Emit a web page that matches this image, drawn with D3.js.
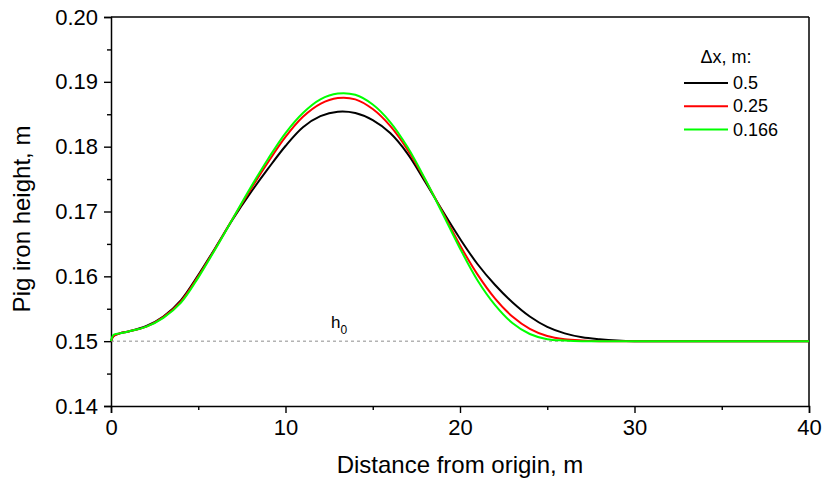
<!DOCTYPE html>
<html>
<head>
<meta charset="utf-8">
<script src="https://cdn.jsdelivr.net/npm/d3@7"></script>
<style>
  body { margin: 0; background: #fff; }
  svg text { font-family: "Liberation Sans", Arial, sans-serif; fill: #000; }
</style>
</head>
<body>
<div id="chart"></div>
<script>
// values (distance in m, height in m)
var distance = [0, 0.15, 0.5, 1, 2, 3, 4, 5, 6, 7, 8, 9, 10, 11, 12, 13, 14, 15, 16, 17, 18, 19, 20,
    21, 22, 23, 24, 25, 26, 27, 28, 29, 30, 32, 35, 40];

var h_05 = [0.1500, 0.1508, 0.1512, 0.1515, 0.1523, 0.1538, 0.1563, 0.1602, 0.1645, 0.1689, 0.1729,
    0.1766, 0.1801, 0.1830, 0.1847, 0.1854, 0.1852, 0.1841, 0.1821, 0.1789, 0.1746, 0.1701, 0.1658,
    0.1619, 0.1587, 0.1560, 0.1538, 0.1522, 0.1512, 0.1506, 0.1503, 0.1501, 0.1500, 0.1500, 0.1500, 0.1500];

var h_025 = [0.1500, 0.1508, 0.1512, 0.1515, 0.1522, 0.1537, 0.1561, 0.1600, 0.1644, 0.1690, 0.1734,
    0.1776, 0.1815, 0.1846, 0.1866, 0.1875, 0.1873, 0.1858, 0.1832, 0.1795, 0.1749, 0.1699, 0.1648,
    0.1603, 0.1566, 0.1538, 0.1519, 0.1508, 0.1503, 0.1501, 0.1500, 0.1500, 0.1500, 0.1500, 0.1500, 0.1500];

var h_0166 = [0.1500, 0.1510, 0.1512, 0.1515, 0.1522, 0.1536, 0.1559, 0.1598, 0.1643, 0.1690, 0.1737,
    0.1781, 0.1821, 0.1852, 0.1873, 0.1882, 0.1880, 0.1865, 0.1838, 0.1799, 0.1750, 0.1697, 0.1643,
    0.1594, 0.1556, 0.1528, 0.1511, 0.1503, 0.1501, 0.1500, 0.1500, 0.1500, 0.1500, 0.1500, 0.1500, 0.1500];

var seriesNames = ["0.5", "0.25", "0.166"];
var seriesColors = ["#000000", "#ff0000", "#00ff00"];
var seriesValues = [h_05, h_025, h_0166];

var h0 = 0.15;
var xTicks = [0, 10, 20, 30, 40];
var yTicks = [0.14, 0.15, 0.16, 0.17, 0.18, 0.19, 0.20];

var svgWidth = 829;
var svgHeight = 484;

var margin = { top: 17, right: 20, bottom: 78, left: 111 };
var width = svgWidth - margin.left - margin.right;
var height = svgHeight - margin.top - margin.bottom;

var svg = d3.select("#chart")
    .append("svg")
    .attr("width", svgWidth)
    .attr("height", svgHeight);

var chartGroup = svg.append("g")
    .attr("transform", `translate(${margin.left}, ${margin.top})`);

var xScale = d3.scaleLinear().domain([0, 40]).range([0, width]);
var yScale = d3.scaleLinear().domain([0.14, 0.20]).range([height, 0]);

// minor ticks first (shorter), then major with labels
chartGroup.append("g")
    .attr("transform", `translate(0, ${height})`)
    .call(d3.axisBottom(xScale).tickValues([5, 15, 25, 35]).tickSize(4).tickFormat(""))
    .call(g => g.select(".domain").remove());

chartGroup.append("g")
    .call(d3.axisLeft(yScale).tickValues([0.145, 0.155, 0.165, 0.175, 0.185, 0.195]).tickSize(4).tickFormat(""))
    .call(g => g.select(".domain").remove());

var xAxis = chartGroup.append("g")
    .attr("transform", `translate(0, ${height})`)
    .call(d3.axisBottom(xScale).tickValues(xTicks).tickSize(7).tickPadding(6).tickFormat(d3.format("d")));
xAxis.selectAll("text").attr("font-size", 22).attr("font-family", "Liberation Sans, Arial, sans-serif");

var yAxis = chartGroup.append("g")
    .call(d3.axisLeft(yScale).tickValues(yTicks).tickSize(7).tickPadding(6).tickFormat(d3.format(".2f")));
yAxis.selectAll("text").attr("font-size", 22).attr("font-family", "Liberation Sans, Arial, sans-serif");

chartGroup.selectAll(".tick line").attr("stroke-width", 1.4);
chartGroup.selectAll(".domain").attr("stroke-width", 1.5);

// top and right frame lines
chartGroup.append("line")
    .attr("x1", 0).attr("x2", width).attr("y1", 0).attr("y2", 0)
    .attr("stroke", "#000").attr("stroke-width", 1.5);
chartGroup.append("line")
    .attr("x1", width).attr("x2", width).attr("y1", 0).attr("y2", height)
    .attr("stroke", "#000").attr("stroke-width", 1.5);

// h0 reference line
chartGroup.append("line")
    .attr("x1", 0).attr("x2", width)
    .attr("y1", yScale(h0)).attr("y2", yScale(h0))
    .attr("stroke", "#8c8c8c")
    .attr("stroke-width", 1)
    .attr("stroke-dasharray", "3,3");

var h0Label = chartGroup.append("text")
    .attr("x", 220)
    .attr("y", yScale(h0) - 13)
    .attr("font-size", 17);
h0Label.append("tspan").text("h");
h0Label.append("tspan").text("0").attr("font-size", 12).attr("dy", 6);

var line = d3.line()
    .x((d, i) => xScale(distance[i]))
    .y(d => yScale(d))
    .curve(d3.curveCatmullRom.alpha(0.5));

seriesValues.forEach(function(vals, k) {
    chartGroup.append("path")
        .datum(vals)
        .attr("fill", "none")
        .attr("stroke", seriesColors[k])
        .attr("stroke-width", 2)
        .attr("d", line);
});

// legend
var legend = chartGroup.append("g")
    .attr("transform", `translate(${684 - margin.left}, ${63 - margin.top})`);

legend.append("text")
    .attr("x", 42)
    .attr("y", 0)
    .attr("text-anchor", "middle")
    .attr("font-size", 18)
    .text("\u0394x, m:");

seriesNames.forEach(function(name, k) {
    var yy = 20 + k * 23.3;
    legend.append("line")
        .attr("x1", 0).attr("x2", 44)
        .attr("y1", yy).attr("y2", yy)
        .attr("stroke", seriesColors[k])
        .attr("stroke-width", 2);
    legend.append("text")
        .attr("x", 49)
        .attr("y", yy + 6)
        .attr("font-size", 18)
        .text(name);
});

// axis titles
svg.append("text")
    .attr("x", margin.left + width / 2)
    .attr("y", 473)
    .attr("text-anchor", "middle")
    .attr("font-size", 24)
    .text("Distance from origin, m");

svg.append("text")
    .attr("transform", "translate(30, 219) rotate(-90)")
    .attr("text-anchor", "middle")
    .attr("font-size", 24)
    .text("Pig iron height, m");
</script>
</body>
</html>
